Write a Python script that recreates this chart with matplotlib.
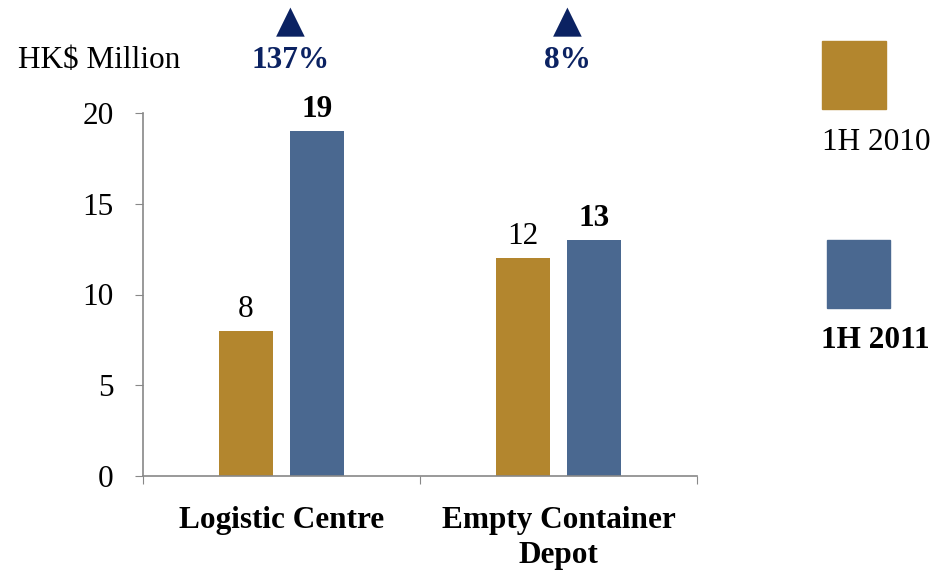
import numpy as np
import matplotlib.pyplot as plt
from matplotlib.patches import Rectangle

plt.rcParams['font.family'] = ['Liberation Serif', 'DejaVu Serif']

categories = ["Logistic Centre", "Empty Container\nDepot"]
series_names = ["1H 2010", "1H 2011"]
values_2010 = [8, 12]
values_2011 = [19, 13]
growth = ["137%", "8%"]

gold = "#B3862E"
blue = "#4A6890"
navy = "#0B2262"
fs = 22.5

fig = plt.figure(figsize=(9.47, 5.76), dpi=100)
ax = fig.add_axes([143 / 947, 1 - 476 / 576, 554 / 947, 363 / 576])

x = np.arange(len(categories))
w = 0.195
off = 0.128
b1 = ax.bar(x - off, values_2010, w, color=gold)
b2 = ax.bar(x + off, values_2011, w, color=blue)

for rect, v in zip(b1, values_2010):
    ax.text(rect.get_x() + rect.get_width() / 2, v + 0.4, str(v),
            ha="center", va="bottom", fontsize=fs)
for rect, v in zip(b2, values_2011):
    ax.text(rect.get_x() + rect.get_width() / 2, v + 0.4, str(v),
            ha="center", va="bottom", fontsize=fs, fontweight="bold")

ax.set_xlim(-0.5, len(categories) - 0.5)
ax.set_ylim(0, 20)
ax.set_yticks([0, 5, 10, 15, 20])
ax.tick_params(axis="y", labelsize=fs, length=6, color="#888888", pad=15)
ax.set_xticks([-0.5, 0.5, 1.5])
ax.set_xticklabels([])
ax.tick_params(axis="x", length=6, color="#888888")
for i, c in enumerate(categories):
    xf = (143 + (i + 0.5) * 277) / 947
    fig.text(xf, 1 - 506 / 576, c, ha="center", va="top", fontsize=fs,
             fontweight="bold", linespacing=1.25)

for s in ["top", "right"]:
    ax.spines[s].set_visible(False)
for s in ["left", "bottom"]:
    ax.spines[s].set_color("#888888")
    ax.spines[s].set_linewidth(1.2)

# growth annotations above the axes
for i, g in enumerate(growth):
    xf = (143 + (i + 0.5) * 277) / 947
    fig.text(xf + 9 / 947, 1 - 22 / 576, "\u25B2", ha="center", va="center",
             fontsize=27, color=navy, family=["DejaVu Sans"])
    fig.text(xf + 9 / 947, 1 - 61 / 576, g, ha="center", va="center", fontsize=fs,
             fontweight="bold", color=navy)

fig.text(18 / 947, 1 - 61 / 576, "HK$ Million", ha="left", va="center", fontsize=fs)

# legend
fig.add_artist(Rectangle((822 / 947, 1 - 109 / 576), 64 / 947, 68 / 576,
                         transform=fig.transFigure, color=gold))
fig.text(876 / 947, 1 - 143 / 576, series_names[0], ha="center", va="center", fontsize=fs)
fig.add_artist(Rectangle((827 / 947, 1 - 308 / 576), 63 / 947, 68 / 576,
                         transform=fig.transFigure, color=blue))
fig.text(875 / 947, 1 - 340 / 576, series_names[1], ha="center", va="center", fontsize=fs,
         fontweight="bold")

fig.savefig("out.png", dpi=100)
